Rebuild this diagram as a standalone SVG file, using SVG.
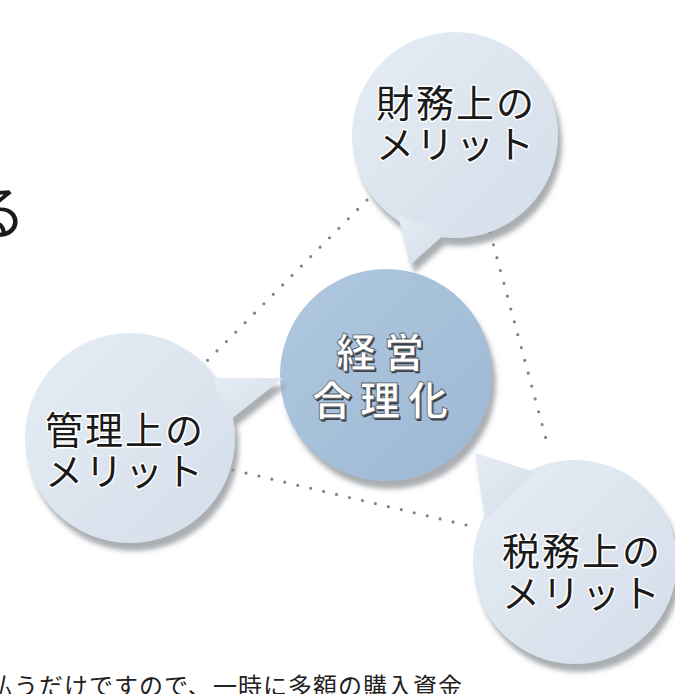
<svg xmlns="http://www.w3.org/2000/svg" width="675" height="694" viewBox="0 0 675 694">
<defs>
<style>
.lbl{font-family:"Noto Sans CJK JP","Noto Sans",sans-serif;font-size:38px;fill:#1a1a1a;text-anchor:middle;letter-spacing:2px;stroke:#ffffff;stroke-width:3px;paint-order:stroke;stroke-linejoin:round}
.ctr{font-family:"Noto Sans CJK JP","Noto Sans",sans-serif;font-size:40px;font-weight:bold;text-anchor:middle;letter-spacing:8px}
.ctrs{fill:#3c4148}
.ctrf{fill:#ffffff;stroke:#5a6068;stroke-width:0.8px}
.bub{fill:url(#gB)}
.dot{fill:none;stroke:#80858b;stroke-width:3.2;stroke-linecap:round;stroke-dasharray:0 13.3}
.body{font-family:"Noto Sans CJK JP","Noto Sans",sans-serif;font-size:24px;fill:#222;letter-spacing:1px}
</style>
<linearGradient id="gB" x1="0" y1="0" x2="1" y2="1">
<stop offset="0" stop-color="#e5ecf4"/>
<stop offset="1" stop-color="#d4dee9"/>
</linearGradient>
<linearGradient id="gC" x1="0" y1="0" x2="1" y2="1">
<stop offset="0" stop-color="#b0c8e0"/>
<stop offset="1" stop-color="#9db8d4"/>
</linearGradient>
<filter id="sh" x="-20%" y="-20%" width="150%" height="150%">
<feGaussianBlur in="SourceAlpha" stdDeviation="2.5" result="b"/>
<feOffset in="b" dx="4" dy="8" result="o"/>
<feFlood flood-color="#8e9398" flood-opacity="0.75"/>
<feComposite in2="o" operator="in" result="s"/>
<feMerge><feMergeNode in="s"/><feMergeNode in="SourceGraphic"/></feMerge>
</filter>
</defs>
<rect width="675" height="694" fill="#ffffff"/>

<text x="-32" y="234" font-family="'Noto Sans CJK JP',sans-serif" font-size="58" fill="#1a1a1a">る</text>

<g id="connectors">
<line class="dot" x1="367" y1="200" x2="207" y2="361"/>
<line class="dot" x1="490" y1="232" x2="549" y2="450"/>
<line class="dot" x1="233" y1="470" x2="466" y2="525"/>
</g>

<g id="center">
<circle cx="386" cy="375" r="106" fill="url(#gC)" filter="url(#sh)"/>
<text class="ctr ctrs" x="385.5" y="368.5">経営</text>
<text class="ctr ctrs" x="385.5" y="416.5">合理化</text>
<text class="ctr ctrf" x="384" y="367">経営</text>
<text class="ctr ctrf" x="384" y="415">合理化</text>
</g>

<g id="finance">
<g filter="url(#sh)" class="bub">
<circle cx="455" cy="135" r="103"/>
<polygon points="398,215 447,232 410,265"/>
</g>
<text class="lbl" x="456" y="117">財務上の</text>
<text class="lbl" x="456" y="158">メリット</text>
</g>

<g id="management">
<g filter="url(#sh)" class="bub">
<circle cx="130" cy="438" r="105"/>
<polygon points="212,378 283,378 230,420"/>
</g>
<text class="lbl" x="125" y="444">管理上の</text>
<text class="lbl" x="125" y="485">メリット</text>
</g>

<g id="tax">
<g filter="url(#sh)" class="bub">
<circle cx="575" cy="562" r="102"/>
<polygon points="475,453 535,472 485,520"/>
</g>
<text class="lbl" x="582" y="565">税務上の</text>
<text class="lbl" x="582" y="607">メリット</text>
</g>

<text class="body" x="-11" y="695">払うだけですので、一時に多額の購入資金</text>
</svg>
